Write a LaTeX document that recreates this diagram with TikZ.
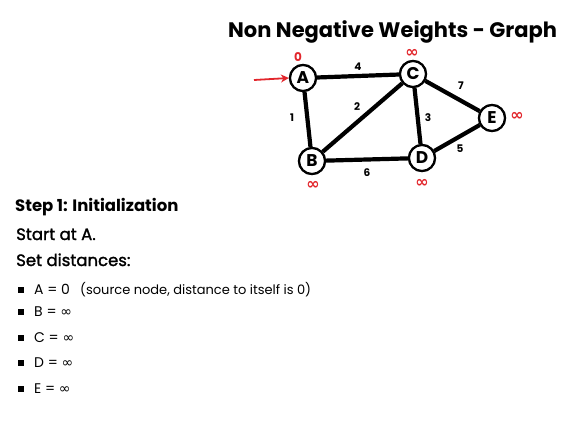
\documentclass[tikz,border=0pt]{standalone}
\usepackage{fontspec}
\setmainfont{Poppins}
\newfontfamily\popmed{Poppins}[FakeBold=1.5]
\newfontfamily\dejavu{DejaVu Sans}
\usepackage{tikz}
\usetikzlibrary{arrows.meta}
\definecolor{distred}{RGB}{226,38,44}
\newcommand{\infsym}{{\dejavu ∞}}
\tikzset{
  vertex/.style    = {circle,draw,line width=2.2pt,minimum size=26pt,inner sep=0pt,font=\fontsize{17}{17}\selectfont\bfseries,fill=white},
  edgeline/.style  = {line width=4.2pt},
  wlabel/.style    = {font=\fontsize{10.5}{10.5}\selectfont\bfseries},
  distlabel/.style = {inner sep=0pt,font=\fontsize{12}{12}\selectfont\bfseries,distred},
  inflabel/.style  = {distlabel,font=\fontsize{16}{16}\selectfont\bfseries},
  bodytext/.style  = {anchor=base west,inner sep=0pt}
}
\begin{document}
\begin{tikzpicture}[x=1pt,y=-1pt]
  \useasboundingbox (0,0) rectangle (586,424);
  \node[bodytext,font=\fontsize{21}{21}\selectfont\bfseries] (title) at (228,37) {Non Negative Weights - Graph};
  % graph
  \node[vertex] (A) at (303,78)  {A};
  \node[vertex] (C) at (413,74)  {C};
  \node[vertex] (E) at (492,118) {E};
  \node[vertex] (B) at (312,161) {B};
  \node[vertex] (D) at (422,158) {D};
  \draw[edgeline] (A) -- (C);
  \draw[edgeline] (A) -- (B);
  \draw[edgeline] (B) -- (C);
  \draw[edgeline] (C) -- (D);
  \draw[edgeline] (C) -- (E);
  \draw[edgeline] (B) -- (D);
  \draw[edgeline] (D) -- (E);
  \foreach \v in {A,B,C,D,E} \node[vertex] at (\v) {\v};
  % weights
  \node[wlabel] (w4) at (358,67)  {4};
  \node[wlabel] (w1) at (292,118) {1};
  \node[wlabel] (w2) at (357,107) {2};
  \node[wlabel] (w3) at (428,118) {3};
  \node[wlabel] (w7) at (461,86)  {7};
  \node[wlabel] (w5) at (460,149) {5};
  \node[wlabel] (w6) at (367,173) {6};
  % distances
  \node[distlabel] (dA) at (298,57)  {0};
  \node[inflabel] (dC) at (412,53)  {\infsym};
  \node[inflabel] (dE) at (517,116) {\infsym};
  \node[inflabel] (dB) at (313,185) {\infsym};
  \node[inflabel] (dD) at (422,183) {\infsym};
  \coordinate (src) at (254,80);
  \draw[distred,line width=1.8pt,-{Stealth[length=8pt,width=8pt]}] (src) -- (A.west);
  % step text
  \node[bodytext,font=\fontsize{16.5}{16.5}\selectfont\bfseries] (step) at (15,211) {Step 1: Initialization};
  \node[bodytext,font=\fontsize{16.5}{16.5}\selectfont\popmed] (startA) at (16,240) {Start at A.};
  \node[bodytext,font=\fontsize{16.5}{16.5}\selectfont\popmed] (setd) at (16,266) {Set distances:};
  \foreach \y/\txt in {294/{A = 0},316/{B = {\dejavu ∞}},342/{C = {\dejavu ∞}},367/{D = {\dejavu ∞}},393/{E = {\dejavu ∞}}}{
    \fill (18,\y-7) rectangle ++(6,6);
    \node[bodytext,font=\fontsize{14}{14}\selectfont] at (34,\y) {\txt};
  }
  \node[bodytext,font=\fontsize{13}{13}\selectfont] (note) at (80,294) {(source node, distance to itself is 0)};
\end{tikzpicture}
\end{document}
